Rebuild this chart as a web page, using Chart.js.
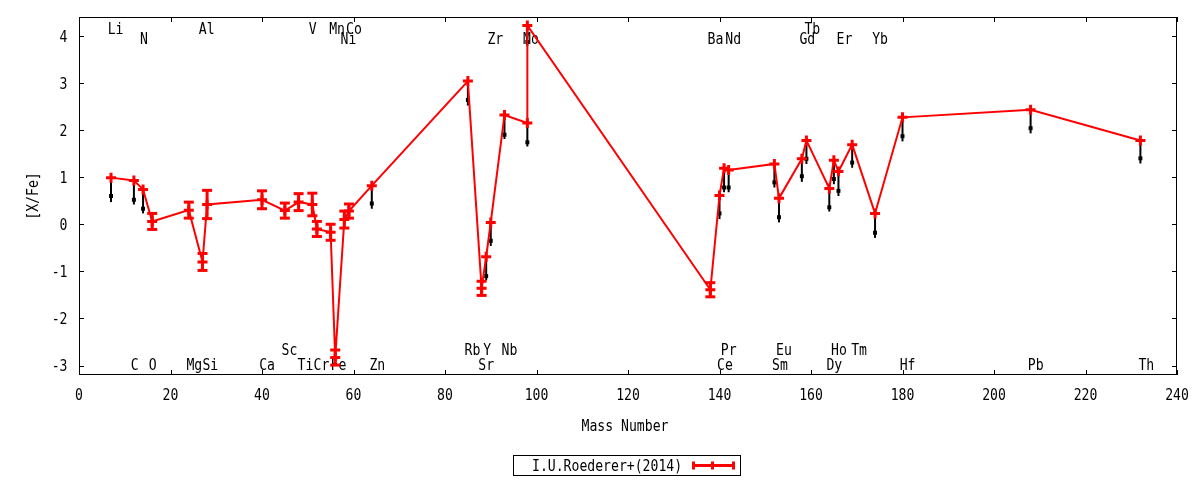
<!DOCTYPE html>
<html><head><meta charset="utf-8">
<script src="https://cdn.jsdelivr.net/npm/chart.js@4.4.1/dist/chart.umd.min.js"></script>
<style>html,body{margin:0;padding:0;background:#fff;}#wrap{width:1200px;height:480px;position:relative;}</style>
</head><body><div id="wrap"><canvas id="c" width="1200" height="480"></canvas></div>
<script>
// ---- data: red series (I.U.Roederer+(2014)) ----
const elements    = ['Li','C','N','O','Mg','Al','Si','Ca','Sc','Ti','V','Cr','Mn','Fe','Ni','Co','Zn','Rb','Sr','Y','Zr','Nb','Tc','Mo','Ba','Ce','Pr','Nd','Sm','Eu','Gd','Tb','Dy','Ho','Er','Tm','Yb','Hf','Pb','Th'];
const massNumbers = [7,12,14,16,24,27,28,40,45,48,51,52,55,56,58,59,64,85,88,89,90,93,98,98,138,140,141,142,152,153,158,159,164,165,166,169,174,180,208,232];
const xFe         = [0.99,0.93,0.74,0.06,0.30,-0.80,0.42,0.52,0.29,0.47,0.42,-0.10,-0.17,-2.83,0.10,0.28,0.82,3.04,-1.36,-0.69,0.04,2.32,2.15,4.22,-1.39,0.61,1.19,1.15,1.28,0.55,1.39,1.78,0.76,1.36,1.12,1.69,0.23,2.27,2.43,1.78];
const xFeErr      = [0,0,0,0.17,0.17,0.18,0.30,0.19,0.16,0.18,0.24,0.16,0.17,0.16,0.18,0.15,0,0,0.15,0,0,0,0,0,0.15,0,0,0,0,0,0,0,0,0,0,0,0,0,0,0];

// ---- data: black points with upward bars ----
const refMass = [7,12,14,64,85,89,90,93,98,98,140,141,142,152,153,158,159,164,165,166,169,174,180,208,232];
const refVal  = [0.60,0.52,0.33,0.44,2.64,-1.10,-0.35,1.90,1.74,3.87,0.23,0.78,0.78,0.89,0.15,1.02,1.39,0.36,0.96,0.71,1.31,-0.18,1.87,2.04,1.40];
const refLow  = [0.47,0.42,0.23,0.33,2.52,-1.19,-0.46,1.81,1.65,3.78,0.11,0.68,0.68,0.78,0.04,0.90,1.28,0.27,0.85,0.60,1.20,-0.29,1.76,1.93,1.29];
const refHigh = [0.99,0.93,0.74,0.82,3.04,-0.69,0.04,2.32,2.15,4.22,0.61,1.19,1.15,1.28,0.55,1.39,1.78,0.76,1.36,1.12,1.69,0.23,2.27,2.43,1.78];

// ---- element name annotations ----
const labelText = ['Li','Al','V','Mn','Co','Tb', 'N','Ni','Zr','Mo','Ba','Nd','Gd','Er','Yb', 'Sc','Rb','Y','Nb','Pr','Eu','Ho','Tm', 'C','O','Mg','Si','Ca','Ti','Cr','Fe','Zn','Sr','Ce','Sm','Dy','Hf','Pb','Th'];
const labelMass = [8.0,27.9,51.1,56.4,60.1,160.3, 14.2,58.9,91.0,98.8,139.1,143.0,159.2,167.3,175.1, 46.0,86.0,89.2,94.1,142.0,154.1,166.1,170.5, 12.2,16.1,25.2,28.7,41.1,49.5,53.0,56.7,65.2,89.0,141.2,153.2,165.1,181.1,209.1,233.3];
const labelY    = [4.17,4.17,4.17,4.17,4.17,4.17, 3.96,3.96,3.96,3.96,3.96,3.96,3.96,3.96,3.96, -2.66,-2.66,-2.66,-2.66,-2.66,-2.66,-2.66,-2.66, -2.97,-2.97,-2.97,-2.97,-2.97,-2.97,-2.97,-2.97,-2.97,-2.97,-2.97,-2.97,-2.97,-2.97,-2.97,-2.97];

const xTickValues = [0,20,40,60,80,100,120,140,160,180,200,220,240];
const yTickValues = [-3,-2,-1,0,1,2,3,4];
const legendLabel = 'I.U.Roederer+(2014)';
const xTitle = 'Mass Number';
const yTitle = '[X/Fe]';

const FONT = '16px "DejaVu Sans Mono"';
const SX = 0.82, CAP = 11.6;
function drawText(ctx, s, x, y, align, rot){
  ctx.save(); ctx.translate(x,y); if(rot) ctx.rotate(rot); ctx.scale(SX,1);
  ctx.font = FONT; ctx.fillStyle = '#000'; ctx.textAlign = align; ctx.textBaseline = 'alphabetic';
  ctx.fillText(s,0,CAP/2); ctx.restore();
}
function seg(ctx,x1,y1,x2,y2){ctx.beginPath();ctx.moveTo(x1,y1);ctx.lineTo(x2,y2);ctx.stroke();}

const gp = {
  id:'gp',
  beforeDatasetsDraw(chart){
    const {ctx, chartArea:a, scales:{x,y}} = chart;
    for(let i=0;i<labelText.length;i++){
      drawText(ctx, labelText[i], x.getPixelForValue(labelMass[i]), y.getPixelForValue(labelY[i]), 'center');
    }
    ctx.save();
    ctx.beginPath(); ctx.rect(a.left,a.top,a.right-a.left,a.bottom-a.top); ctx.clip();
    ctx.strokeStyle='#000'; ctx.lineWidth=2;
    for(let i=0;i<refMass.length;i++){
      const px = x.getPixelForValue(refMass[i]);
      seg(ctx,px,y.getPixelForValue(refLow[i]),px,y.getPixelForValue(refHigh[i]));
    }
    ctx.restore();
  },
  afterDatasetsDraw(chart){
    const {ctx, chartArea:a, scales:{x,y}} = chart;
    // red error bars
    ctx.save();
    ctx.strokeStyle='#ff0000'; ctx.lineWidth=3; ctx.lineCap='butt';
    for(let i=0;i<massNumbers.length;i++){
      const e = xFeErr[i]; if(!e) continue;
      const px = x.getPixelForValue(massNumbers[i]);
      const y1 = y.getPixelForValue(xFe[i]-e), y2 = y.getPixelForValue(xFe[i]+e);
      seg(ctx,px,y1,px,y2);
      seg(ctx,px-5,y1,px+5,y1);
      seg(ctx,px-5,y2,px+5,y2);
    }
    ctx.restore();
    // frame
    ctx.save();
    ctx.strokeStyle='#000'; ctx.lineWidth=1;
    ctx.strokeRect(a.left+0.5,a.top+0.5,a.right-a.left-1,a.bottom-a.top-1);
    for(const v of xTickValues){
      const px = Math.round(x.getPixelForValue(v))+0.5;
      seg(ctx,px,a.bottom,px,a.bottom-5);
      seg(ctx,px,a.top,px,a.top+5);
      drawText(ctx,String(v),x.getPixelForValue(v),394.5,'center');
    }
    for(const v of yTickValues){
      const py = Math.round(y.getPixelForValue(v))+0.5;
      seg(ctx,a.left,py,a.left+5,py);
      seg(ctx,a.right,py,a.right-5,py);
      drawText(ctx,String(v),67.5,y.getPixelForValue(v),'right');
    }
    drawText(ctx,xTitle,(a.left+a.right)/2-3,424.8,'center');
    drawText(ctx,yTitle,32,(a.top+a.bottom)/2,'center',-Math.PI/2);
    // legend
    ctx.strokeRect(513.5,455.5,227,20);
    drawText(ctx,legendLabel,532,465,'left');
    ctx.strokeStyle='#ff0000'; ctx.lineWidth=3;
    seg(ctx,692,465.5,735,465.5);
    seg(ctx,693.5,461.5,693.5,469.5);
    seg(ctx,733.5,461.5,733.5,469.5);
    seg(ctx,712.5,461.5,712.5,469.5);
    ctx.restore();
  }
};

new Chart(document.getElementById('c'), {
  type:'line',
  data:{datasets:[
    {label:legendLabel, data:massNumbers.map((m,i)=>({x:m,y:xFe[i]})),
     borderColor:'#ff0000', backgroundColor:'#ff0000', borderWidth:2, tension:0,
     pointStyle:'cross', pointRadius:5, pointBorderWidth:3, pointBorderColor:'#ff0000', order:0},
    {label:'ref', data:refMass.map((m,i)=>({x:m,y:refVal[i]})), showLine:false,
     pointStyle:'rect', pointRadius:2.8, pointBorderWidth:0, backgroundColor:'#000', borderColor:'#000', order:1}
  ]},
  options:{
    responsive:false, animation:false, devicePixelRatio:1,
    layout:{padding:{left:0,right:23,top:17,bottom:0}},
    plugins:{legend:{display:false}, tooltip:{enabled:false}},
    scales:{
      x:{type:'linear', min:0, max:240, grid:{display:false,drawTicks:false}, border:{display:false},
         ticks:{display:false, stepSize:20, includeBounds:false}, afterFit(s){s.height=105;}},
      y:{type:'linear', min:-3.2, max:4.4, grid:{display:false,drawTicks:false}, border:{display:false},
         ticks:{display:false, stepSize:1, includeBounds:false}, afterFit(s){s.width=79;}}
    }
  },
  plugins:[gp]
});
</script></body></html>
